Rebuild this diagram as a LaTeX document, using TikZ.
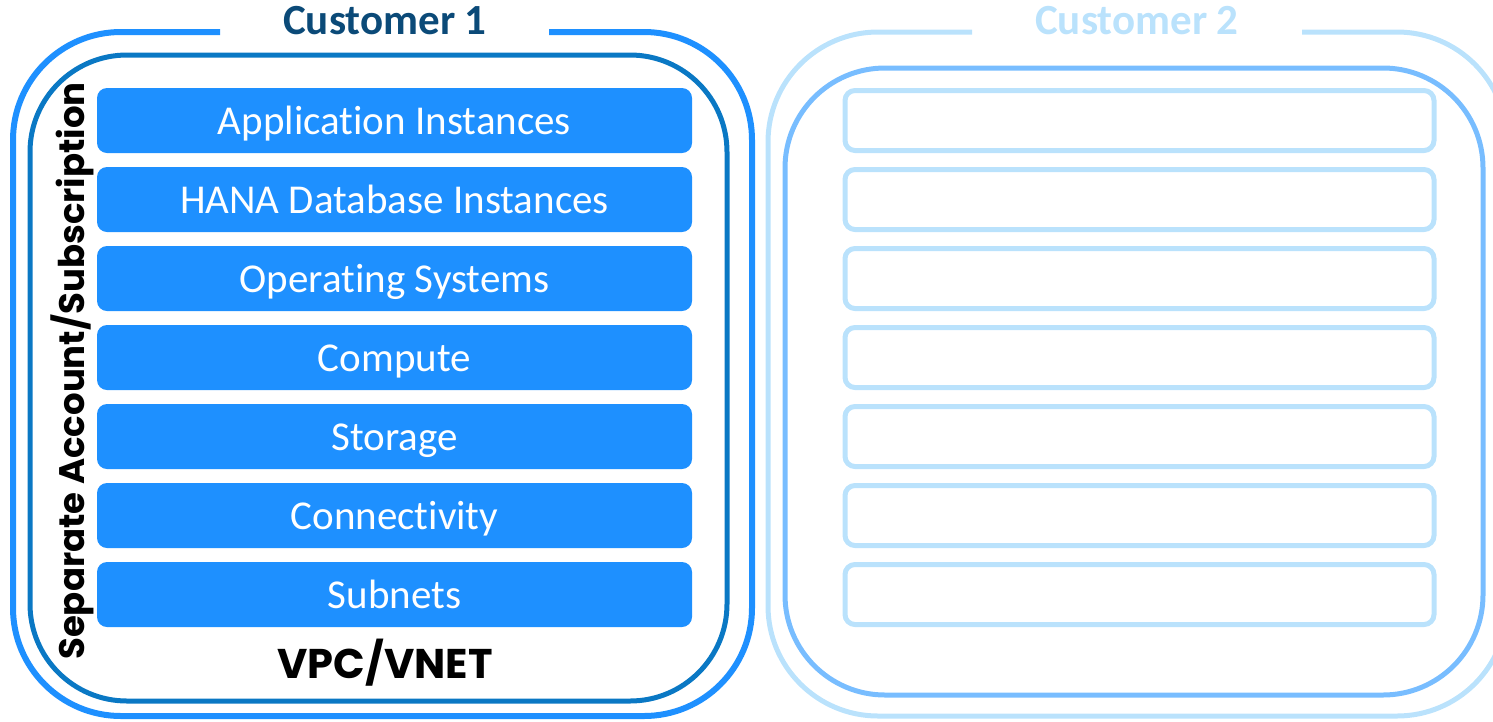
\documentclass[tikz,border=0pt]{standalone}
\usepackage{fontspec}
\setmainfont{Carlito}[Ligatures=NoCommon]
\newfontfamily\headfont{Poppins}[BoldFont={* Bold}]
\definecolor{cOuterA}{HTML}{1E90FF}
\definecolor{cInnerA}{HTML}{0A78C4}
\definecolor{cTitleA}{HTML}{0B4A78}
\definecolor{cBar}{HTML}{1E90FF}
\definecolor{cOuterB}{HTML}{BAE2FC}
\definecolor{cInnerB}{HTML}{78BDFF}
\tikzset{
  layer/.style={rectangle, rounded corners=10pt, fill=cBar, text=white,
    minimum width=595pt, minimum height=65pt, inner sep=0pt,
    text height=30pt, text depth=2pt,
    font=\fontsize{41}{41}\selectfont},
  emptylayer/.style={rectangle, rounded corners=10pt, draw=cOuterB, line width=5pt,
    minimum width=589pt, minimum height=60pt, inner sep=0pt},
  title/.style={font=\fontsize{43}{43}\selectfont\bfseries, inner sep=0pt}
}
\begin{document}
\begin{tikzpicture}[x=1pt, y=-1pt]
\useasboundingbox (0,0) rectangle (1493,721);
\clip (0,0) rectangle (1493,721);

% Customer 1: account frame with a gap for its title
\draw[cOuterA, line width=6pt, rounded corners=108pt]
  (549,32) -- (752,32) -- (752,716) -- (13,716) -- (13,32) -- (220,32);
% VPC/VNET frame
\draw[cInnerA, line width=5pt, rounded corners=97pt]
  (30,55) rectangle (727,701);

% Customer 2 frames
\draw[cOuterB, line width=5pt, rounded corners=110pt]
  (1302,32) -- (1507,32) -- (1507,716) -- (768,716) -- (768,32) -- (972,32);
\draw[cInnerB, line width=5pt, rounded corners=100pt]
  (785,68) rectangle (1483,695);

% Titles
\node[title, text=cTitleA] (t1) at (385,21) {Customer 1};
\node[title, text=cOuterB] (t2) at (1137,21) {Customer 2};

% Customer 1 stack
\node[layer] (a1) at (394.5,120.5) {Application Instances};
\node[layer] (a2) at (394.5,199.5) {HANA Database Instances};
\node[layer] (a3) at (394.5,278.5) {Operating Systems};
\node[layer] (a4) at (394.5,357.5) {Compute};
\node[layer] (a5) at (394.5,436.5) {Storage};
\node[layer] (a6) at (394.5,515.5) {Connectivity};
\node[layer] (a7) at (394.5,594.5) {Subnets};

% Customer 2 stack (empty slots)
\node[emptylayer] (b1) at (1139.5,120.5) {};
\node[emptylayer] (b2) at (1139.5,199.5) {};
\node[emptylayer] (b3) at (1139.5,278.5) {};
\node[emptylayer] (b4) at (1139.5,357.5) {};
\node[emptylayer] (b5) at (1139.5,436.5) {};
\node[emptylayer] (b6) at (1139.5,515.5) {};
\node[emptylayer] (b7) at (1139.5,594.5) {};

% Labels of the Customer 1 frames
\node[font=\headfont\fontsize{41.5}{41.5}\selectfont\bfseries, inner sep=0pt] (vnet) at (385,663) {VPC/VNET};
\node[font=\headfont\fontsize{35.5}{35.5}\selectfont\bfseries, inner sep=0pt, rotate=90] (acct) at (72,371) {Separate Account/Subscription};
\end{tikzpicture}
\end{document}
